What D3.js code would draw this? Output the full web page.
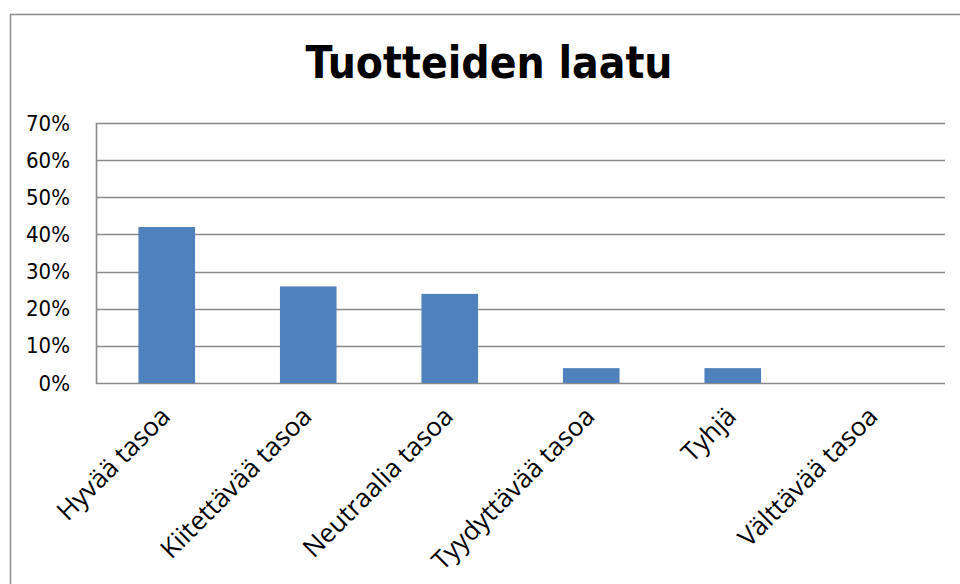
<!DOCTYPE html>
<html>
<head>
<meta charset="utf-8">
<script src="https://cdn.jsdelivr.net/npm/d3@7"></script>
<style>
  html, body { margin: 0; padding: 0; background: #fff; }
  svg { display: block; }
</style>
</head>
<body>
<svg id="chart" width="960" height="584"></svg>
<script>
// data
const categories = ['Hyvää tasoa', 'Kiitettävää tasoa', 'Neutraalia tasoa', 'Tyydyttävää tasoa', 'Tyhjä', 'Välttävää tasoa']
const values = [0.42, 0.26, 0.24, 0.04, 0.04, 0]
const yTicks = [0, 0.1, 0.2, 0.3, 0.4, 0.5, 0.6, 0.7]
const title = 'Tuotteiden laatu'

let svg = d3.select('#chart')
let margin = { left: 96, top: 123, right: 15, bottom: 201 }
let W = 960, H = 584

// outer chart frame (runs off the right and bottom of the picture)
svg.append('rect')
  .attr('x', 10.5).attr('y', 14.5)
  .attr('width', 1000).attr('height', 1000)
  .attr('fill', 'none')
  .attr('stroke', '#8c8c8c')
  .attr('stroke-width', 1.5)

let x = d3.scaleBand()
  .domain(categories)
  .range([margin.left, W - margin.right])
  .paddingInner(0.6)
  .paddingOuter(0.3)

let y = d3.scaleLinear()
  .domain([0, 0.7])
  .range([H - margin.bottom, margin.top])

// gridlines
svg.append('g')
  .selectAll('line')
  .data(yTicks)
  .join('line')
    .attr('x1', margin.left).attr('x2', W - margin.right)
    .attr('y1', d => Math.round(y(d)) + 0.5)
    .attr('y2', d => Math.round(y(d)) + 0.5)
    .attr('stroke', '#8a8a8a')
    .attr('stroke-width', 1.6)

// y axis line
svg.append('line')
  .attr('x1', margin.left + 0.5).attr('x2', margin.left + 0.5)
  .attr('y1', y(0.7)).attr('y2', y(0) + 1)
  .attr('stroke', '#8a8a8a')
  .attr('stroke-width', 1.6)

// bars
svg.append('g')
  .selectAll('rect')
  .data(values)
  .join('rect')
    .attr('x', (d, i) => x(categories[i]))
    .attr('width', x.bandwidth())
    .attr('y', d => y(d))
    .attr('height', d => y(0) - y(d))
    .attr('fill', '#4f81bd')

// y tick labels
let yAxis = d3.axisLeft(y)
  .tickValues(yTicks)
  .tickFormat(d3.format('.0%'))
  .tickSize(0)
  .tickPadding(0)
let gy = svg.append('g')
  .attr('transform', 'translate(70,0)')
  .call(yAxis)
gy.select('.domain').remove()
gy.selectAll('text')
  .attr('font-family', 'DejaVu Sans Condensed, DejaVu Sans, sans-serif')
  .attr('font-size', 22)
  .attr('fill', '#000')

// category labels, rotated
svg.append('g')
  .selectAll('text')
  .data(categories)
  .join('text')
    .attr('transform', d => 'translate(' + (x(d) + x.bandwidth() / 2 + 5) + ',' + (H - margin.bottom + 35) + ') rotate(-45)')
    .attr('text-anchor', 'end')
    .attr('font-family', 'Open Sans, sans-serif')
    .attr('font-size', 26)
    .attr('fill', '#000')
    .text(d => d)

// title
svg.append('text')
  .attr('x', 489)
  .attr('y', 78)
  .attr('text-anchor', 'middle')
  .attr('font-family', 'DejaVu Sans Condensed, DejaVu Sans, sans-serif')
  .attr('font-weight', 'bold')
  .attr('font-size', 44)
  .attr('fill', '#000')
  .text(title)
</script>
</body>
</html>
